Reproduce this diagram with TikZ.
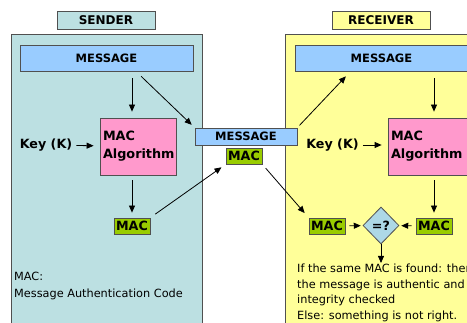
\documentclass[tikz,border=0pt]{standalone}
\usepackage{fontspec}
\setmainfont{DejaVu Sans}
\usetikzlibrary{shapes.geometric, arrows.meta, positioning, calc}
\definecolor{sendteal}{RGB}{188, 224, 226}
\definecolor{recvyellow}{RGB}{255, 255, 153}
\definecolor{msgblue}{RGB}{153, 204, 255}
\definecolor{algpink}{RGB}{255, 153, 204}
\definecolor{macgreen}{RGB}{153, 204, 0}
\definecolor{cmpblue}{RGB}{173, 216, 230}
\definecolor{edgegray}{RGB}{80, 80, 80}

\tikzset{
  box/.style={draw=edgegray, line width=0.8pt, inner sep=0pt, font=\fontsize{11.5}{13}\selectfont\bfseries},
  titlebox/.style={box, minimum width=98pt, minimum height=18pt, font=\fontsize{12}{14}\selectfont\bfseries},
  msgbar/.style={box, fill=msgblue, minimum width=173pt, minimum height=26pt},
  algbox/.style={box, fill=algpink, minimum height=57pt, inner xsep=3pt, align=left, font=\fontsize{12.8}{18}\selectfont\bfseries},
  macbox/.style={box, fill=macgreen, minimum width=36pt, minimum height=16pt, font=\fontsize{12.7}{14}\selectfont\bfseries},
  keylabel/.style={font=\fontsize{12.7}{14}\selectfont\bfseries, inner sep=0pt},
  notetext/.style={align=left, inner sep=0pt, anchor=north west},
  arr/.style={-{Triangle[length=7pt, width=6pt]}, line width=0.8pt},
}

\begin{document}
\begin{tikzpicture}[x=1pt, y=-1pt]
  \useasboundingbox (0,0) rectangle (467,323);
  \clip (0,0) rectangle (467,323);

  % panels
  \filldraw[sendteal, draw=edgegray, line width=0.8pt] (11,34) rectangle (202,330);
  \filldraw[recvyellow, draw=edgegray, line width=0.8pt] (285,34) rectangle (480,330);

  \node[titlebox, fill=sendteal] (sendtitle) at (106,20) {SENDER};
  \node[titlebox, fill=recvyellow] (recvtitle) at (381,20) {RECEIVER};

  % sender side
  \node[msgbar] (smsg) at (106.5,58) {MESSAGE};
  \node[algbox, text width=70pt] (salg) at (138,146.5) {MAC\\Algorithm};
  \node[keylabel] (skey) at (46,145) {Key (K)};
  \node[macbox] (smac) at (132,226) {MAC};
  \node[notetext, font=\fontsize{11.3}{17}\selectfont] (snote) at (14,272) {MAC:\\Message Authentication Code};

  % message in transit
  \node[box, fill=msgblue, minimum width=102pt, minimum height=17pt] (mmsg) at (246,136.5) {MESSAGE};
  \node[macbox] (mmac) at (244,156) {MAC};

  % receiver side
  \node[msgbar] (rmsg) at (381.5,58) {MESSAGE};
  \node[algbox, text width=78pt] (ralg) at (430,146.5) {MAC\\Algorithm};
  \node[keylabel] (rkey) at (332.5,145) {Key (K)};
  \node[macbox] (rmacin) at (327,226) {MAC};
  \node[macbox] (rmacout) at (434,226) {MAC};
  \node[diamond, draw=edgegray, line width=0.8pt, fill=cmpblue, minimum width=36pt, minimum height=37pt, inner sep=0pt, font=\fontsize{12.7}{14}\selectfont\bfseries] (cmp) at (381,225.5) {=?};
  \node[notetext, font=\fontsize{11.3}{15.6}\selectfont] (rnote) at (297,264) {If the same MAC is found: then\\the message is authentic and\\integrity checked\\Else: something is not right.};

  \coordinate (rmsgin) at (350,72);

  % arrows
  \draw[arr, shorten <=7pt, shorten >=6pt] (smsg.south -| smac) -- (salg.north -| smac);
  \draw[arr, shorten <=7pt, shorten >=4pt] ([xshift=4pt]smsg.south -| smac) -- (mmsg.north west);
  \draw[arr, shorten <=4pt, shorten >=6pt] (skey) -- (salg);
  \draw[arr, shorten <=5pt, shorten >=5pt] (salg.south -| smac) -- (smac.north);
  \draw[arr, shorten <=6pt, shorten >=5pt] (smac.north east) -- (mmac.south west);
  \draw[arr, shorten <=5pt, shorten >=6pt] (mmac.south east) -- (rmacin.north west);
  \draw[arr, shorten <=3pt, shorten >=6pt] (mmsg.north east) -- (rmsgin);
  \draw[arr, shorten <=7pt, shorten >=6pt] (rmsg.south -| rmacout) -- (ralg.north -| rmacout);
  \draw[arr, shorten <=4pt, shorten >=6pt] (rkey) -- (ralg.west |- rkey);
  \draw[arr, shorten <=5pt, shorten >=5pt] (ralg.south -| rmacout) -- (rmacout.north);
  \draw[arr, shorten <=4pt, shorten >=2pt] (rmacin) -- (cmp);
  \draw[arr, shorten <=4pt, shorten >=2pt] (rmacout) -- (cmp);
  \draw[arr, shorten >=1pt] (cmp.south) -- (cmp.south |- rnote.north);
\end{tikzpicture}
\end{document}
